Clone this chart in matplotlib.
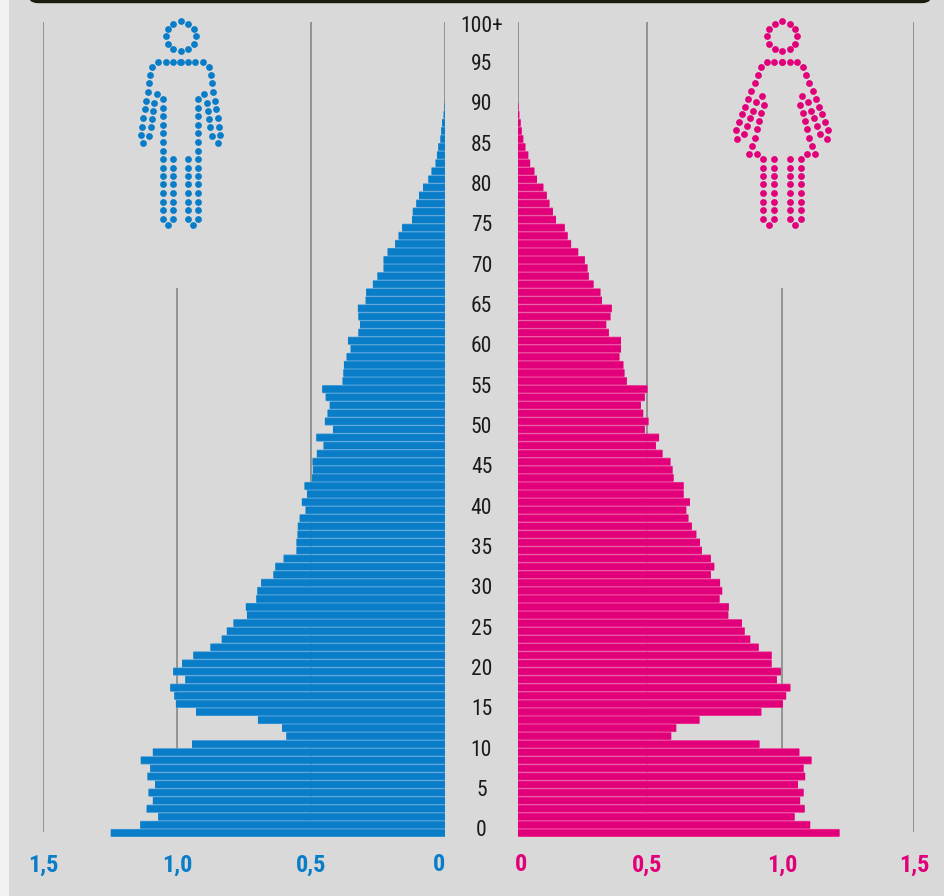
# -*- coding: utf-8 -*-
import numpy as np
import matplotlib
matplotlib.use("Agg")
import matplotlib.pyplot as plt
from matplotlib.patches import FancyBboxPatch, Rectangle

plt.rcParams['font.family'] = ['Roboto Condensed', 'DejaVu Sans']

# share of population by single year of age, 0 to 90
ages = list(range(91))
male = [1.247, 1.137, 1.070, 1.113, 1.090, 1.106, 1.082, 1.110, 1.100, 1.135,
        1.090, 0.944, 0.592, 0.608, 0.698, 0.929, 1.004, 1.010, 1.025, 0.969,
        1.014, 0.981, 0.939, 0.875, 0.833, 0.814, 0.789, 0.739, 0.743, 0.704,
        0.700, 0.686, 0.640, 0.633, 0.602, 0.554, 0.554, 0.550, 0.549, 0.542,
        0.520, 0.534, 0.515, 0.524, 0.496, 0.493, 0.494, 0.478, 0.453, 0.480,
        0.418, 0.448, 0.438, 0.430, 0.445, 0.458, 0.382, 0.379, 0.377, 0.367,
        0.352, 0.362, 0.323, 0.317, 0.323, 0.325, 0.296, 0.294, 0.269, 0.252,
        0.229, 0.229, 0.214, 0.186, 0.173, 0.160, 0.123, 0.120, 0.107, 0.097,
        0.082, 0.062, 0.050, 0.035, 0.030, 0.025, 0.017, 0.014, 0.011, 0.005,
        0.002]
female = [1.218, 1.107, 1.048, 1.086, 1.069, 1.082, 1.061, 1.088, 1.082, 1.112,
          1.066, 0.915, 0.581, 0.600, 0.688, 0.922, 1.004, 1.016, 1.032, 0.981,
          0.996, 0.961, 0.961, 0.912, 0.880, 0.859, 0.849, 0.797, 0.799, 0.764,
          0.774, 0.766, 0.731, 0.744, 0.731, 0.697, 0.690, 0.676, 0.659, 0.646,
          0.638, 0.652, 0.628, 0.628, 0.590, 0.586, 0.578, 0.548, 0.523, 0.535,
          0.481, 0.495, 0.475, 0.466, 0.481, 0.491, 0.413, 0.404, 0.400, 0.385,
          0.391, 0.391, 0.345, 0.335, 0.351, 0.356, 0.319, 0.313, 0.287, 0.269,
          0.264, 0.254, 0.229, 0.202, 0.189, 0.178, 0.145, 0.133, 0.120, 0.110,
          0.097, 0.073, 0.063, 0.047, 0.040, 0.029, 0.021, 0.015, 0.011, 0.006,
          0.003]

age_ticks = list(range(0, 101, 5))
age_labels = [str(a) for a in age_ticks[:-1]] + ['100+']
scale_ticks = [0, 0.5, 1.0, 1.5]
scale_labels = ['0', '0,5', '1,0', '1,5']

BLUE, BLUE_LIGHT = '#0a7dc8', '#3f9ad8'
PINK, PINK_LIGHT = '#e2007a', '#ee3d98'
GREY = '#939393'
BG = '#d9d9d9'

# dots of the two icons, in pixels, left half only since the figures are symmetric
male_head = (180.7, 36.5)
male_half = [(158, 62), (166, 62), (173, 62), (181, 62),
             (152, 67), (150, 75), (149, 83), (148, 92), (146, 101), (145, 109), (143, 118), (142, 127), (141, 135), (143, 143),
             (149, 136), (151, 127), (152, 119), (153, 111), (154, 103), (157, 94),
             (163, 99), (163, 108), (163, 116), (163, 125), (163, 133), (163, 142), (163, 151), (163, 159), (163, 168), (163, 176), (163, 184), (163, 193), (163, 202), (163, 210), (163, 219),
             (168, 225), (173, 219), (173, 210), (173, 202), (173, 193), (173, 184), (173, 176), (173, 168), (173, 159)]
female_head = (782, 36.5)
female_half = [(767, 62), (774, 62), (782, 62),
               (761, 67), (758, 75), (755, 83), (751, 91), (748, 99), (745, 107), (742, 114), (739, 122), (736, 130), (737, 139),
               (744, 134), (747, 126), (750, 118), (753, 111), (756, 102), (762, 96),
               (764, 105), (761, 113), (759, 121), (757, 129), (755, 138), (752, 146), (749, 154), (757, 154),
               (763, 159), (763, 168), (763, 176), (763, 184), (763, 193), (763, 202), (763, 210), (763, 219),
               (769, 225), (774, 219), (774, 210), (774, 202), (774, 193), (774, 184), (774, 176), (774, 168), (774, 159)]

W, H = 944, 896
X0_L, X15_L = 445, 43
X0_R, X15_R = 517.7, 914
Y_BOTTOM, Y_TOP = 837, 22


def icon_points(head, half, radius, mirror):
    t = np.linspace(0, 2 * np.pi, 12, endpoint=False)
    hx = head[0] + radius * np.sin(t)
    hy = head[1] + radius * np.cos(t)
    bx = np.array([p[0] for p in half], dtype=float)
    by = np.array([p[1] for p in half], dtype=float)
    return np.r_[hx, bx, mirror - bx], np.r_[hy, by, by]


fig = plt.figure(figsize=(W / 100, H / 100), dpi=100, facecolor=BG)

# page edge and the dark band cut off at the top
fig.add_artist(Rectangle((0, 0), 9 / W, 1, transform=fig.transFigure, color='#f2f2f2', lw=0))
bg = fig.add_axes([0, 0, 1, 1], facecolor='none')
bg.set_xlim(0, W)
bg.set_ylim(H, 0)
bg.axis('off')
bg.add_patch(FancyBboxPatch((28, -20), 904, 22.5, boxstyle='round,pad=0,rounding_size=10',
                            fc='#1b1b10', ec='#1b1b10', lw=1))

mx, my = icon_points(male_head, male_half, 15, 360.7)
bg.scatter(mx, my, s=24, color=BLUE, lw=0)
fx, fy = icon_points(female_head, female_half, 15, 1564)
bg.scatter(fx, fy, s=24, color=PINK, lw=0)

left = fig.add_axes([X15_L / W, 1 - Y_BOTTOM / H, (X0_L - X15_L) / W, (Y_BOTTOM - Y_TOP) / H], facecolor='none')
right = fig.add_axes([X0_R / W, 1 - Y_BOTTOM / H, (X15_R - X0_R) / W, (Y_BOTTOM - Y_TOP) / H], facecolor='none')

# the printed grid on the women's side sits a bit inside its own scale at 0,5
for ax, values, col, light, xlim, zero_shift, half_pos in [(left, male, BLUE, BLUE_LIGHT, (1.5, 0), 0.022, 0.5),
                                                           (right, female, PINK, PINK_LIGHT, (0, 1.5), 0.012, 0.49)]:
    ax.set_xlim(*xlim)
    ax.set_ylim(-0.5, 100.5)
    ax.axis('off')

    ax.vlines(0, -0.5, 100.5, color=GREY, lw=1.4, zorder=1)
    ax.vlines(half_pos, 0, 100.5, color=GREY, lw=1.4, zorder=1)
    ax.vlines(1.0, 10.4, 67.5, color=GREY, lw=1.4, zorder=1)
    ax.vlines(1.5, 0.1, 100.5, color=GREY, lw=1.4, zorder=1)

    ax.barh(ages, values, height=1.0, color=light, lw=0, zorder=2, snap=False)
    ax.barh(ages, values, height=0.82, color=col, lw=0, zorder=3, snap=False)

    for v, lab in zip(scale_ticks, scale_labels):
        x = v + zero_shift if v == 0 else half_pos if v == 0.5 else v
        ax.text(x, -3.95, lab, color=col, fontsize=17.5, fontweight='bold',
                ha='center', va='center', clip_on=False)

# age labels sit in the gap between the two halves, 100+ a little under the pitch
for a, lab in zip(age_ticks, age_labels):
    y = 831 - 8.07 * a
    if a == 100:
        y += 3
    bg.text(481.5, y, lab, fontsize=15.5, color='#1a1a1a', ha='center', va='center')

fig.savefig('out.png', dpi=100, facecolor=BG)
